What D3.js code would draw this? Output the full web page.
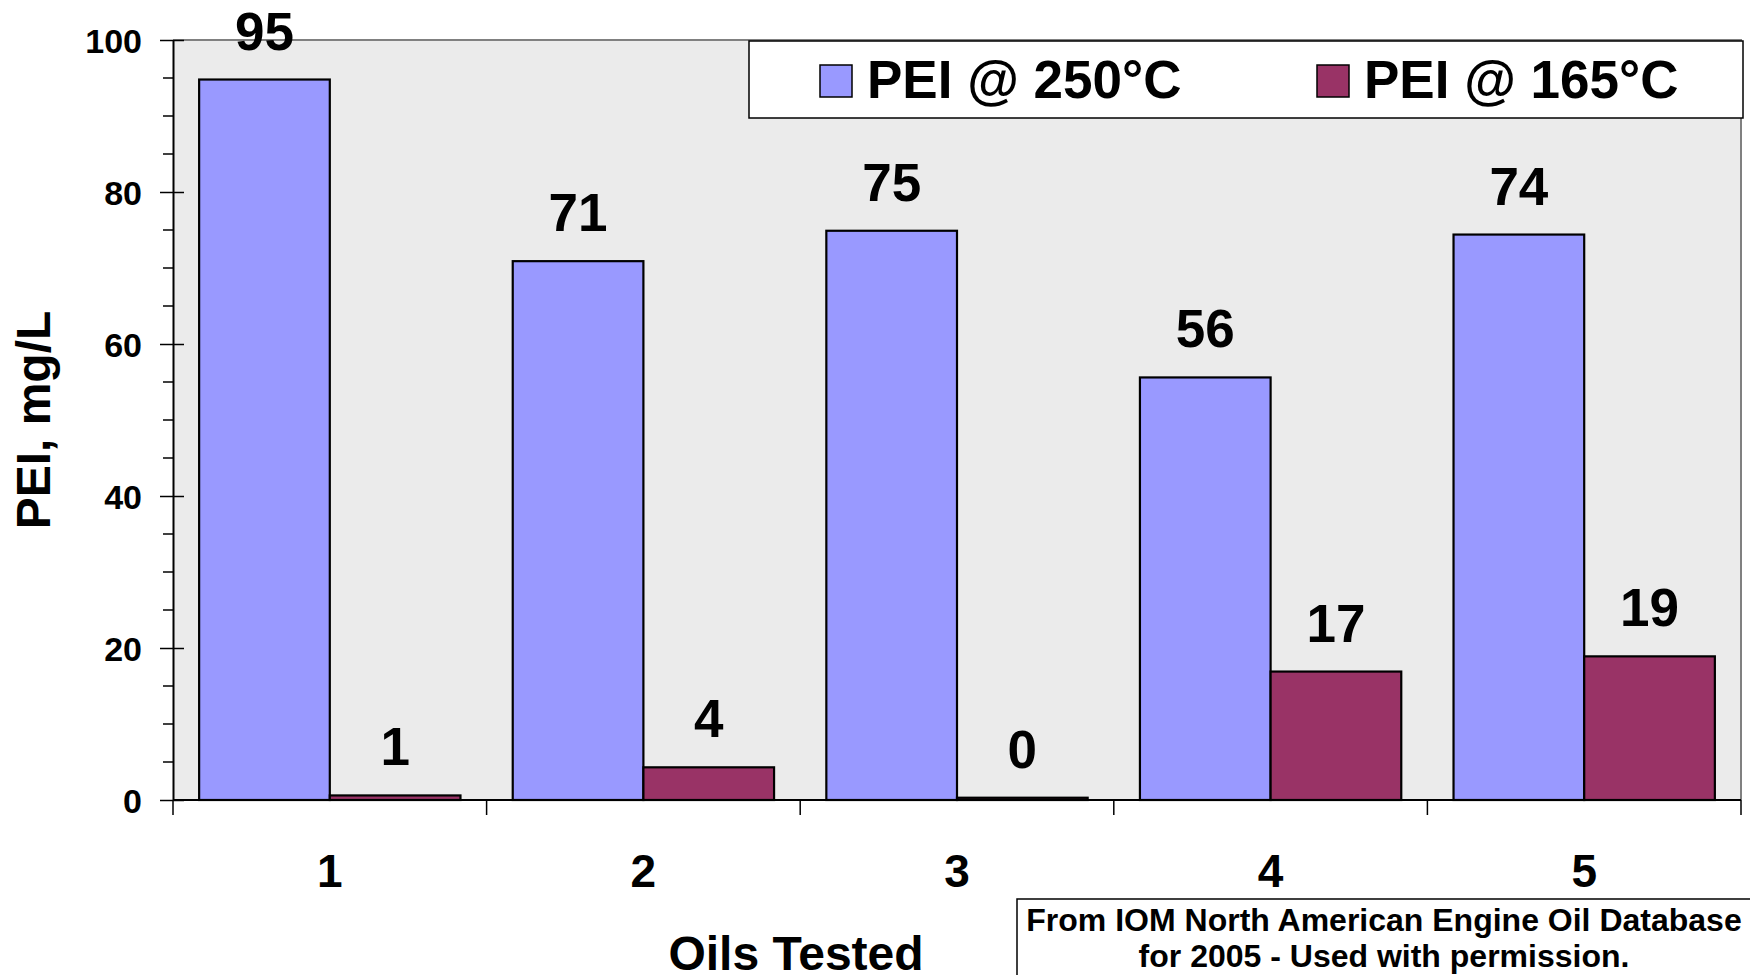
<!DOCTYPE html>
<html>
<head>
<meta charset="utf-8">
<script src="https://cdn.jsdelivr.net/npm/d3@7"></script>
<style>
  body { margin: 0; background: #fff; }
  svg text { font-family: "Liberation Sans", Arial, sans-serif; font-weight: bold; fill: #000; }
</style>
</head>
<body>
<svg id="chart" width="1750" height="975"></svg>
<script>
// PEI results per tested oil at two temperatures (mg/L)
const oils = ["1", "2", "3", "4", "5"];
const seriesNames = ["PEI @ 250°C", "PEI @ 165°C"];
const pei250 = [94.8, 70.9, 74.9, 55.6, 74.4];
const pei165 = [0.6, 4.3, 0.3, 16.9, 18.9];
const yTickValues = [0, 20, 40, 60, 80, 100];
const seriesColors = ["#9999FF", "#993366"];
const yTitle = "PEI, mg/L";
const xTitle = "Oils Tested";
const sourceNote = ["From IOM North American Engine Oil Database", "for 2005 - Used with permission."];

const rows = oils.map((o, i) => ({ oil: o, values: [pei250[i], pei165[i]] }));

const svg = d3.select("#chart");
const plot = { left: 173, right: 1741, top: 40, bottom: 800 };

const x0 = d3.scaleBand().domain(oils).range([plot.left, plot.right]).padding(0);
const x1 = d3.scaleBand().domain([0, 1]).range([0, x0.bandwidth()]).paddingInner(0).paddingOuter(0.2);
const y = d3.scaleLinear().domain([0, 100]).range([plot.bottom, plot.top]);
const fmt = d3.format(".0f");

// plot area background
svg.append("rect")
  .attr("x", plot.left).attr("y", plot.top)
  .attr("width", plot.right - plot.left).attr("height", plot.bottom - plot.top)
  .attr("fill", "#EBEBEB");

// grey frame on top and right
svg.append("path")
  .attr("d", `M${plot.left},${plot.top}H${plot.right}V${plot.bottom}`)
  .attr("fill", "none").attr("stroke", "#808080").attr("stroke-width", 2);

// bars
const groups = svg.append("g").selectAll("g").data(rows).join("g")
  .attr("transform", d => `translate(${x0(d.oil)},0)`);

groups.selectAll("rect").data(d => d.values.map((v, k) => ({ k, v }))).join("rect")
  .attr("x", d => x1(d.k))
  .attr("width", x1.bandwidth())
  .attr("y", d => y(d.v))
  .attr("height", d => y(0) - y(d.v))
  .attr("fill", d => seriesColors[d.k])
  .attr("stroke", "#000").attr("stroke-width", 2.2);

// value labels
groups.selectAll("text").data(d => d.values.map((v, k) => ({ k, v }))).join("text")
  .attr("x", d => x1(d.k) + x1.bandwidth() / 2)
  .attr("y", d => y(d.v) - 30)
  .attr("text-anchor", "middle")
  .attr("font-size", 53)
  .text(d => fmt(d.v));

// y axis: major ticks crossing the axis, minor ticks outside
const yMinor = d3.range(0, 101, 5).filter(v => v % 20 !== 0);
svg.append("g").selectAll("line").data(yMinor).join("line")
  .attr("x1", plot.left - 10).attr("x2", plot.left)
  .attr("y1", d => y(d)).attr("y2", d => y(d))
  .attr("stroke", "#000").attr("stroke-width", 1.5);

const yAxis = d3.axisLeft(y).tickValues(yTickValues).tickSizeInner(13).tickSizeOuter(0).tickPadding(18);
const yg = svg.append("g").attr("transform", `translate(${plot.left},0)`).call(yAxis);
yg.select(".domain").attr("stroke", "#000").attr("stroke-width", 2);
yg.selectAll(".tick line").attr("stroke", "#000").attr("stroke-width", 1.5).attr("x2", 11).attr("x1", -13);
yg.selectAll(".tick text").attr("font-size", 34).attr("font-family", null).attr("dy", "0.36em");

// x axis with tick marks at category boundaries
svg.append("line")
  .attr("x1", plot.left).attr("x2", plot.right)
  .attr("y1", plot.bottom).attr("y2", plot.bottom)
  .attr("stroke", "#000").attr("stroke-width", 2);
const boundaries = oils.map(o => x0(o)).concat([plot.right]);
svg.append("g").selectAll("line").data(boundaries).join("line")
  .attr("x1", d => d).attr("x2", d => d)
  .attr("y1", plot.bottom).attr("y2", plot.bottom + 15)
  .attr("stroke", "#000").attr("stroke-width", 1.5);
svg.append("g").selectAll("text").data(oils).join("text")
  .attr("x", d => x0(d) + x0.bandwidth() / 2)
  .attr("y", 887)
  .attr("text-anchor", "middle")
  .attr("font-size", 46)
  .text(d => d);

// axis titles
svg.append("text")
  .attr("transform", `translate(50,${(plot.top + plot.bottom) / 2}) rotate(-90)`)
  .attr("text-anchor", "middle")
  .attr("font-size", 48)
  .text(yTitle);
svg.append("text")
  .attr("x", 796).attr("y", 970)
  .attr("text-anchor", "middle")
  .attr("font-size", 48)
  .text(xTitle);

// legend
const legend = svg.append("g");
legend.append("rect")
  .attr("x", 749).attr("y", 41).attr("width", 994).attr("height", 77)
  .attr("fill", "#fff").attr("stroke", "#000").attr("stroke-width", 1.5);
const legendX = [820, 1317];
seriesNames.forEach((name, k) => {
  legend.append("rect")
    .attr("x", legendX[k]).attr("y", 65).attr("width", 32).attr("height", 32)
    .attr("fill", seriesColors[k]).attr("stroke", "#000").attr("stroke-width", 1.5);
  legend.append("text")
    .attr("x", legendX[k] + 47).attr("y", 98)
    .attr("font-size", 53)
    .text(name);
});

// source note box
const note = svg.append("g");
note.append("rect")
  .attr("x", 1017).attr("y", 899).attr("width", 760).attr("height", 110)
  .attr("fill", "#fff").attr("stroke", "#000").attr("stroke-width", 1.5);
sourceNote.forEach((line, i) => {
  note.append("text")
    .attr("x", 1384).attr("y", 931 + i * 36)
    .attr("text-anchor", "middle")
    .attr("font-size", 32)
    .text(line);
});
</script>
</body>
</html>
